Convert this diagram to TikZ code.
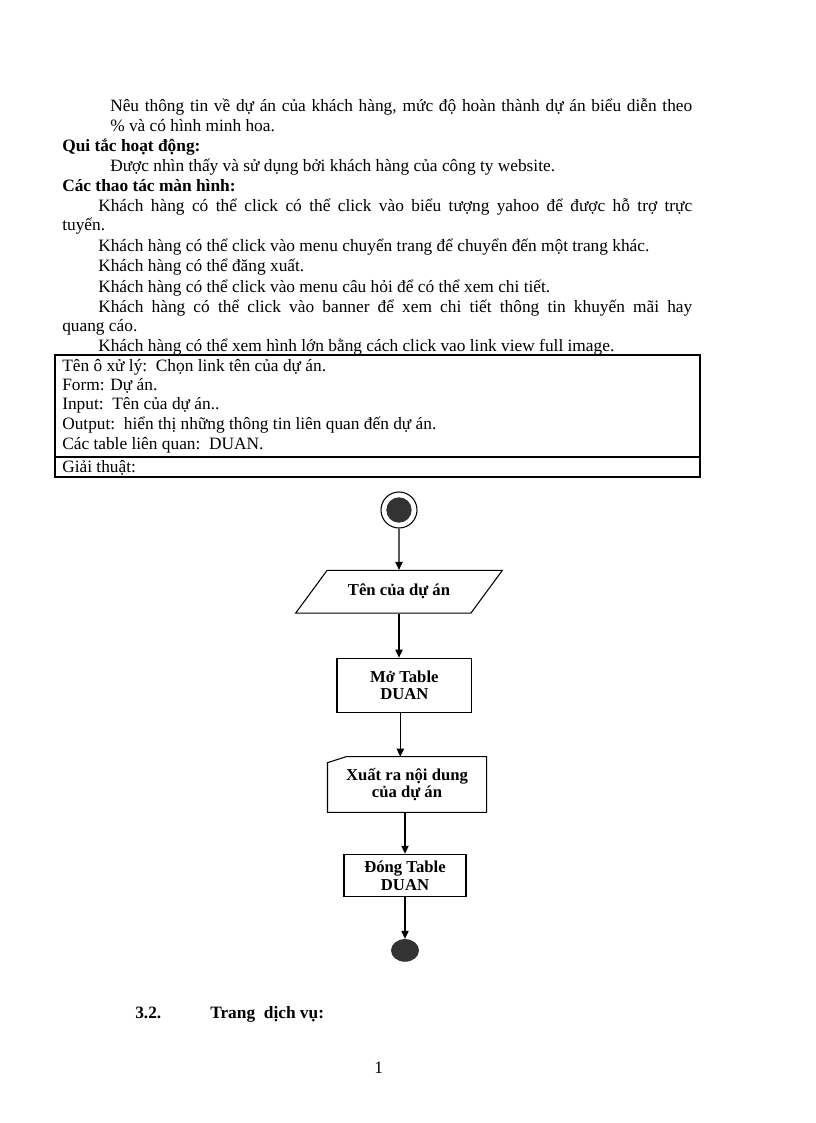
\documentclass[tikz,border=0pt]{standalone}
\usepackage{fontspec}
\setmainfont{Liberation Serif}
\usepackage{tikz}
\usetikzlibrary{arrows.meta, positioning, shapes.geometric}

\begin{document}
\begin{tikzpicture}[
  x=0.75pt, y=-0.75pt,
  font=\fontsize{13}{15}\selectfont,
  node distance=32pt,
  txt/.style={anchor=base west, inner sep=0pt},
  head/.style={txt, font=\fontsize{13}{15}\selectfont\bfseries},
  flow/.style={draw, line width=0.8pt, align=center, font=\fontsize{12.5}{13}\selectfont\bfseries, inner sep=2pt},
  arr/.style={-{Triangle[length=6pt, width=5.5pt]}, line width=0.8pt},
]
\useasboundingbox (0,0) rectangle (816,1123);

% text above the table
\node[txt] (l1) at (110,112) {\makebox[436.5pt][s]{Nêu thông tin về dự án của khách hàng, mức độ hoàn thành dự án biểu diễn theo}};
\node[txt] (l2) at (110,132) {\% và có hình minh hoa.};
\node[head] (rules) at (62,152) {Qui tắc hoạt động:};
\node[txt] (l3) at (110,172) {Được nhìn thấy và sử dụng bởi khách hàng của công ty website.};
\node[head] (ops) at (62,192) {Các thao tác màn hình:};
\node[txt] (l4) at (98,212) {\makebox[445.5pt][s]{Khách hàng có thể click có thể click vào biểu tượng yahoo để được hỗ trợ trực}};
\node[txt] (l5) at (62,231) {tuyến.};
\node[txt] (l6) at (98,251) {Khách hàng có thể click vào menu chuyển trang để chuyển đến một trang khác.};
\node[txt] (l7) at (98,272) {Khách hàng có thể đăng xuất.};
\node[txt] (l8) at (98,292) {Khách hàng có thể click vào menu câu hỏi để có thể xem chi tiết.};
\node[txt] (l9) at (98,312) {\makebox[445.5pt][s]{Khách hàng có thể click vào banner để xem chi tiết thông tin khuyến mãi hay}};
\node[txt] (l10) at (62,331) {quang cáo.};
\node[txt] (l11) at (98,351) {Khách hàng có thể xem hình lớn bằng cách click vao link view full image.};

% table
\coordinate (tnw) at (55,355);
\coordinate (tse) at (700,477);
\coordinate (tdl) at (55,457);
\coordinate (tdr) at (700,457);
\draw[line width=0.8pt] (tnw) rectangle (tse);
\draw[line width=0.8pt] (tdl) -- (tdr);
\node[txt] (r1) at (62,371) {Tên ô xử lý:\ \ Chọn link tên của dự án.};
\node[txt] (r2) at (62,390) {Form: Dự án.};
\node[txt] (r3) at (62,409) {Input:\ \ Tên của dự án..};
\node[txt] (r4) at (62,429) {Output:\ \ hiển thị những thông tin liên quan đến dự án.};
\node[txt] (r5) at (62,449) {Các table liên quan:\ \ DUAN.};
\node[txt] (r6) at (62,472) {Giải thuật:};

% flowchart
\node[circle, draw, line width=0.8pt, minimum size=27pt, inner sep=0pt] (start) at (399,510) {};
\node[circle, fill=black!80, minimum size=19pt, inner sep=0pt] (startdot) at (start.center) {};

\node[flow, trapezium, trapezium left angle=41, trapezium right angle=139,
      trapezium stretches=true, minimum width=155pt, minimum height=32pt, below=31pt of start]
  (input) {Tên của dự án};
\draw[arr] (start) -- (input);

\node[flow, rectangle, minimum width=101pt, minimum height=40.5pt, below=33pt of input, xshift=4pt]
  (open) {Mở Table\\DUAN};
\draw[arr] (input.south) -- (input.south |- open.north);

\node[flow, draw=none, rectangle, minimum width=118.5pt, minimum height=41pt, below=33pt of open, xshift=2pt]
  (output) {Xuất ra nội dung\\của dự án};
\draw[line width=0.8pt] (output.south west) -- ([yshift=-4.5pt]output.north west)
  -- ([xshift=14pt]output.north west) -- (output.north east) -- (output.south east) -- cycle;
\draw[arr] ([xshift=-3pt]open.south) -- ([xshift=-3pt]open.south |- output.north);

\node[flow, rectangle, minimum width=91.5pt, minimum height=32pt, below=31pt of output, xshift=-1.5pt]
  (close) {Đóng Table\\DUAN};
\draw[arr] (close.north |- output.south) -- (close.north);

\node[ellipse, fill=black!80, minimum width=21pt, minimum height=17pt, inner sep=0pt, below=31pt of close]
  (stop) {};
\draw[arr] (close) -- (stop);

% next section
\node[head] (secnum) at (135,1018) {3.2.};
\node[head] (sectitle) at (210,1018) {Trang\ \ dịch vụ:};
\node[txt] (page) at (374,1073) {1};

\end{tikzpicture}
\end{document}
